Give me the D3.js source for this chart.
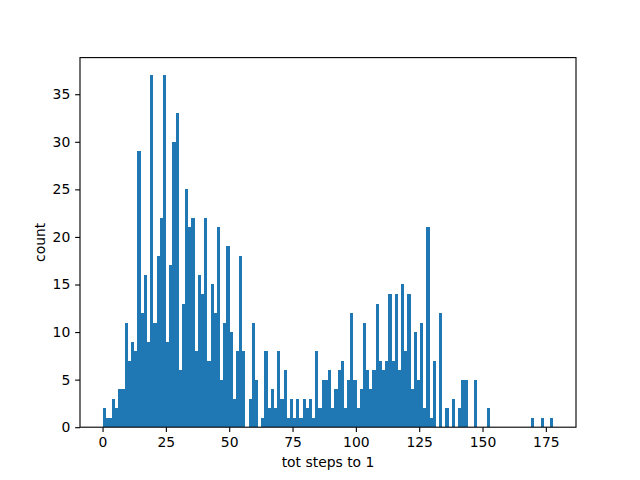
<!DOCTYPE html>
<html>
<head>
<meta charset="utf-8">
<script src="https://cdn.jsdelivr.net/npm/d3@7"></script>
<style>
  html, body { margin: 0; padding: 0; background: #ffffff; }
  svg { display: block; }
  text { font-family: "DejaVu Sans", sans-serif; }
</style>
</head>
<body>
<svg id="chart" width="640" height="480"></svg>
<script>
// ---- data ----
const binStart = 0;
const binEnd = 178;
const binCount = 142;
const counts = [
  2, 1, 1, 3, 2, 4, 4, 11, 7, 9,
  8, 29, 12, 16, 9, 37, 11, 18, 22, 37,
  9, 17, 30, 33, 6, 13, 25, 21, 22, 8,
  16, 14, 22, 7, 15, 12, 21, 5, 11, 19,
  10, 3, 8, 18, 8, 0, 3, 11, 5, 0,
  1, 8, 2, 4, 2, 8, 3, 6, 1, 3,
  1, 3, 1, 3, 2, 3, 1, 8, 2, 5,
  5, 6, 2, 4, 6, 7, 2, 5, 12, 5,
  2, 4, 11, 6, 4, 6, 13, 7, 6, 7,
  14, 7, 14, 6, 15, 8, 14, 4, 10, 5,
  11, 2, 21, 1, 7, 0, 12, 0, 2, 0,
  3, 0, 2, 5, 5, 0, 0, 5, 0, 0,
  0, 2, 0, 0, 0, 0, 0, 0, 0, 0,
  0, 0, 0, 0, 0, 1, 0, 0, 1, 0,
  0, 1
];
const xTicks = [0, 25, 50, 75, 100, 125, 150, 175];
const yTicks = [0, 5, 10, 15, 20, 25, 30, 35];
const xLabel = "tot steps to 1";
const yLabel = "count";

// ---- layout ----
const W = 640, H = 480;
const plotL = 80, plotR = 576, plotT = 57.6, plotB = 427.2;
const barColor = "#1f77b4";
const fontPx = 13.9;
const tickLen = 4.86;

const binW = (binEnd - binStart) / binCount;
const bins = counts.map((c, i) => ({ x0: binStart + i * binW, x1: binStart + (i + 1) * binW, count: c }));

const xPad = (binEnd - binStart) * 0.05;
const x = d3.scaleLinear().domain([binStart - xPad, binEnd + xPad]).range([plotL, plotR]);
const yMax = d3.max(counts) * 1.05;
const y = d3.scaleLinear().domain([0, yMax]).range([plotB, plotT]);

const svg = d3.select("#chart");
svg.append("rect").attr("width", W).attr("height", H).attr("fill", "#ffffff");

// bars
svg.append("g").attr("shape-rendering", "crispEdges")
  .selectAll("rect").data(bins.filter(b => b.count > 0)).join("rect")
  .attr("x", d => x(d.x0))
  .attr("width", d => x(d.x1) - x(d.x0))
  .attr("y", d => y(d.count))
  .attr("height", d => y(0) - y(d.count))
  .attr("fill", barColor);

// axes
const xAxis = d3.axisBottom(x).tickValues(xTicks).tickSize(tickLen).tickPadding(4.86).tickFormat(d3.format("d"));
const gx = svg.append("g").attr("transform", `translate(0,${plotB})`).call(xAxis);
const yAxis = d3.axisLeft(y).tickValues(yTicks).tickSize(tickLen).tickPadding(4.86).tickFormat(d3.format("d"));
const gy = svg.append("g").attr("transform", `translate(${plotL},0)`).call(yAxis);

[gx, gy].forEach(g => {
  g.select(".domain").remove();
  g.selectAll(".tick line").attr("stroke", "#000").attr("stroke-width", 1.11);
  g.selectAll(".tick text").attr("fill", "#000").style("font-size", fontPx + "px")
    .style("font-family", '"DejaVu Sans", sans-serif');
});

// spines
svg.append("rect")
  .attr("x", plotL).attr("y", plotT)
  .attr("width", plotR - plotL).attr("height", plotB - plotT)
  .attr("fill", "none").attr("stroke", "#000").attr("stroke-width", 1.11);

// labels
svg.append("text")
  .attr("x", (plotL + plotR) / 2).attr("y", 467)
  .attr("text-anchor", "middle").style("font-size", fontPx + "px").attr("fill", "#000")
  .text(xLabel);
svg.append("text")
  .attr("transform", `translate(45,${(plotT + plotB) / 2}) rotate(-90)`)
  .attr("text-anchor", "middle").style("font-size", fontPx + "px").attr("fill", "#000")
  .text(yLabel);
</script>
</body>
</html>
